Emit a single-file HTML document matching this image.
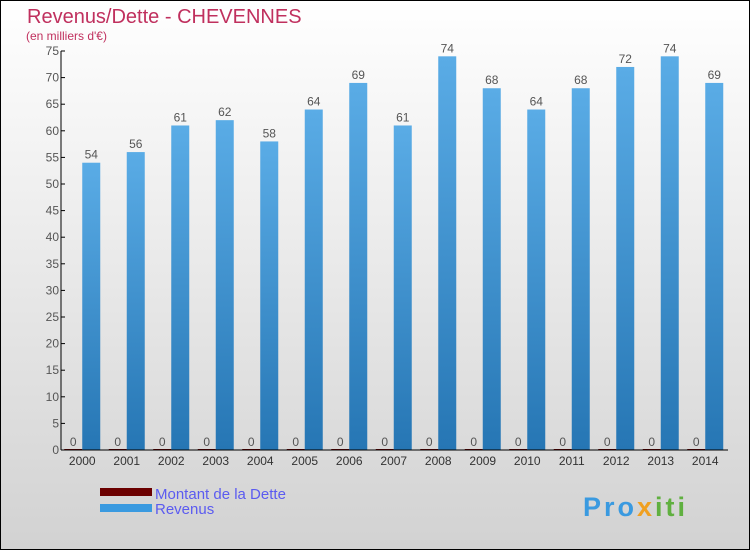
<!DOCTYPE html>
<html><head><meta charset="utf-8"><style>
body{margin:0;width:750px;height:550px;overflow:hidden;font-family:"Liberation Sans",sans-serif}
</style></head><body>
<svg width="750" height="550">
<defs>
<linearGradient id="bg" x1="0" y1="0" x2="0" y2="1"><stop offset="0" stop-color="#ffffff"/><stop offset="1" stop-color="#d2d2d2"/></linearGradient>
<linearGradient id="bar" x1="0" y1="0" x2="0" y2="1"><stop offset="0" stop-color="#5aace6"/><stop offset="1" stop-color="#2676b4"/></linearGradient>
</defs>
<rect x="0.5" y="0.5" width="749" height="549" fill="url(#bg)" stroke="#000"/>
<text x="27" y="23" font-size="20" fill="#c0305e">Revenus/Dette - CHEVENNES</text>
<text x="26" y="40" font-size="12" fill="#c0305e">(en milliers d'€)</text>
<g id="yaxis"></g>
<g id="bars"></g>
<g id="xaxis"></g>
<g>
<rect x="100" y="488" width="52" height="8" fill="#6b0000"/>
<text x="155" y="499" font-size="15" fill="#5b5bf0">Montant de la Dette</text>
<rect x="100" y="504" width="52" height="8" fill="#3a9ae0"/>
<text x="155" y="514" font-size="15" fill="#5b5bf0">Revenus</text>
</g>
<text x="583" y="516" font-size="27" font-weight="bold" letter-spacing="3" fill="#3a9ae0">Pro<tspan fill="#f0a020">x</tspan><tspan fill="#60b040">iti</tspan></text>
</svg>
<script>
const years=["2000","2001","2002","2003","2004","2005","2006","2007","2008","2009","2010","2011","2012","2013","2014"];
const revenus=[54,56,61,62,58,64,69,61,74,68,64,68,72,74,69];
const dette=[0,0,0,0,0,0,0,0,0,0,0,0,0,0,0];
const yTicks=[0,5,10,15,20,25,30,35,40,45,50,55,60,65,70,75];
const NS="http://www.w3.org/2000/svg";
const x0=61,catW=44.5,yBase=450,pxU=5.32;
const y=v=>yBase-v*pxU;
const cx=i=>x0-1+catW*(i+0.5);
function mk(t,a,p){const e=document.createElementNS(NS,t);for(const k in a)e.setAttribute(k,a[k]);p.appendChild(e);return e;}
const ya=document.getElementById('yaxis'),ba=document.getElementById('bars'),xa=document.getElementById('xaxis');
mk('line',{x1:x0,y1:y(75),x2:x0,y2:yBase,stroke:'#000'},ya);
yTicks.forEach(v=>{
 mk('line',{x1:x0,y1:y(v),x2:x0+4,y2:y(v),stroke:'#000'},ya);
 const t=mk('text',{x:x0-2,y:y(v)+4,'font-size':12,fill:'#555','text-anchor':'end'},ya);
 
 
 t.textContent=v;
});
mk('line',{x1:x0,y1:yBase,x2:728,y2:yBase,stroke:'#000'},xa);
years.forEach((yr,i)=>{
 const c=cx(i);
 const d=mk('rect',{x:c-18,y:y(dette[i])-1,width:18,height:dette[i]*pxU+1,fill:'#6b0000'},ba);
 
 
 const dl=mk('text',{x:c-9,y:y(dette[i])-4,'font-size':12,fill:'#555','text-anchor':'middle'},ba);
 
 
 dl.textContent=dette[i];
 const r=mk('rect',{x:c,y:y(revenus[i]),width:18,height:revenus[i]*pxU,fill:'url(#bar)'},ba);
 
 
 const rl=mk('text',{x:c+9,y:y(revenus[i])-4,'font-size':12,fill:'#555','text-anchor':'middle'},ba);
 
 
 rl.textContent=revenus[i];
 const tl=mk('text',{x:c,y:465,'font-size':12,fill:'#333','text-anchor':'middle'},xa);
 
 
 tl.textContent=yr;
});
</script>
</body></html>
